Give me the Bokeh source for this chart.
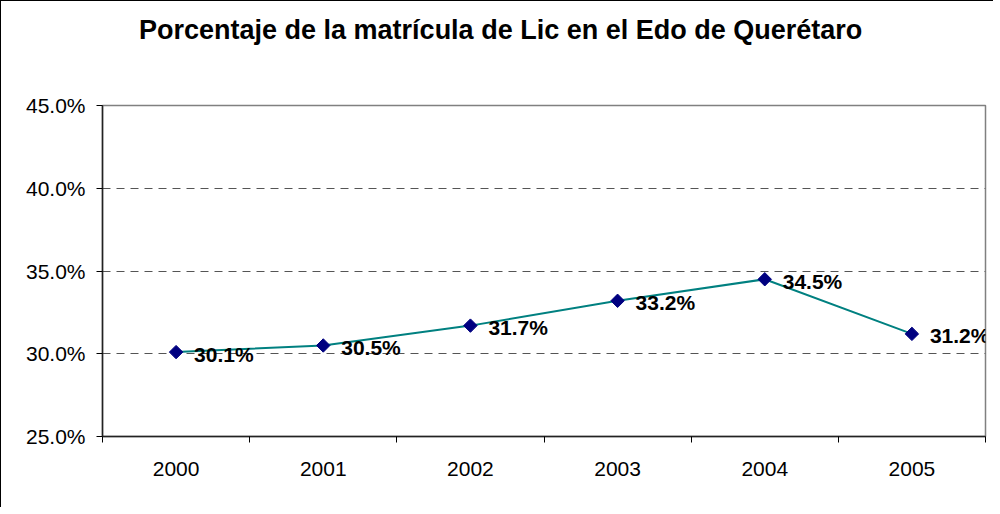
import math
from bokeh.plotting import figure
from bokeh.layouts import column
from bokeh.models import (ColumnDataSource, FixedTicker, NumeralTickFormatter,
                          Range1d, LabelSet, Div)
from bokeh.core.properties import value
from bokeh.embed import file_html
from bokeh.resources import INLINE

# ---- data ----
years = ["2000", "2001", "2002", "2003", "2004", "2005"]
pct = [30.1, 30.5, 31.7, 33.2, 34.5, 31.2]
y_ticks = [25.0, 30.0, 35.0, 40.0, 45.0]
title_text = "Porcentaje de la matrícula de Lic en el Edo de Querétaro"

xs = list(range(len(years)))
vals = [v / 100.0 for v in pct]
labels = ["%.1f%%" % v for v in pct]
src = ColumnDataSource(dict(x=xs, y=vals, lab=labels))

title_div = Div(
    text=('<div style="font-family: \'Liberation Sans\'; font-weight: bold; '
          'font-size: 27px; line-height: 31px; padding-left: 138px; padding-top: 14px; '
          'white-space: nowrap; color: black;">%s</div>' % title_text),
    width=992, height=70, margin=(0, 0, 0, 0))

p = figure(width=992, height=436, output_backend="svg", toolbar_location=None,
           x_range=Range1d(-0.5, len(years) - 0.5),
           y_range=Range1d(y_ticks[0] / 100, y_ticks[-1] / 100),
           min_border_left=101, min_border_right=8, min_border_bottom=71,
           min_border_top=34, background_fill_color="white",
           border_fill_color="white", margin=(0, 0, 0, 0))
p.title = None

p.outline_line_color = "#808080"
p.outline_line_width = 1.5

# grid
p.xgrid.grid_line_color = None
p.ygrid.ticker = FixedTicker(ticks=[v / 100 for v in y_ticks[1:-1]])
p.ygrid.grid_line_color = "#555555"
p.ygrid.grid_line_dash = "8 6"
p.ygrid.grid_line_width = 1

# x axis
p.xaxis.ticker = FixedTicker(ticks=xs, minor_ticks=[i - 0.5 for i in range(len(years) + 1)])
p.xaxis.major_label_overrides = {i: y for i, y in enumerate(years)}
p.xaxis.major_tick_out = 0
p.xaxis.major_tick_in = 0
p.xaxis.minor_tick_out = 6
p.xaxis.minor_tick_in = 0
p.xaxis.minor_tick_line_color = "black"
p.xaxis.major_label_standoff = 19
p.xaxis.axis_line_color = "#222222"
p.xaxis.axis_line_width = 1.5

# y axis
p.yaxis.ticker = FixedTicker(ticks=[v / 100 for v in y_ticks])
p.yaxis.formatter = NumeralTickFormatter(format="0.0%")
p.yaxis.major_tick_out = 6
p.yaxis.major_tick_in = 0
p.yaxis.minor_tick_line_color = None
p.yaxis.major_label_standoff = 11
p.yaxis.axis_line_color = "#222222"
p.yaxis.axis_line_width = 1.5

for ax in (p.xaxis, p.yaxis):
    ax.major_label_text_font = "Liberation Sans"
    ax.major_label_text_font_size = "21px"
    ax.major_label_text_color = "black"

p.line("x", "y", source=src, line_color="#008080", line_width=2)
p.scatter("x", "y", source=src, marker="square", size=9.5, angle=math.pi / 4,
          fill_color="#000080", line_color="#000080")

ls = LabelSet(x="x", y="y", text="lab", source=src, x_offset=18, y_offset=-2,
              text_baseline="middle", text_align="left",
              text_font=value("Liberation Sans"), text_font_size=value("21px"),
              text_font_style="bold", text_color="black")
p.add_layout(ls)

layout = column(title_div, p, spacing=0, margin=(0, 0, 0, 0),
                styles={"border-left": "1px solid black",
                        "border-top": "1px solid black",
                        "background-color": "white"})

open("out.html", "w").write(file_html(layout, INLINE))
